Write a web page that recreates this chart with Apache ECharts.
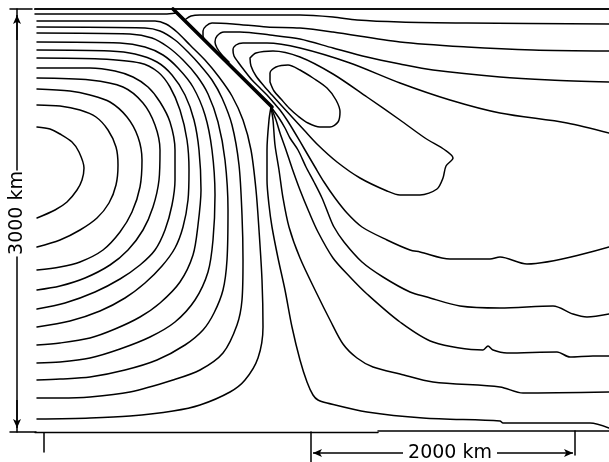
<!DOCTYPE html>
<html>
<head>
<meta charset="utf-8">
<script src="https://cdn.jsdelivr.net/npm/echarts@6/dist/echarts.min.js"></script>
<style>
html,body{margin:0;padding:0;background:#fff;}
#chart{width:609px;height:462px;}
</style>
</head>
<body>
<div id="chart"></div>
<script>
// Digitized streamline coordinates: [horizontal position, depth] in figure units
// (frame spans x 35..609, depth 9..432)

// left gyre (contours returning to the western boundary)
const gyre1 = [[37,127],[50,129],[60,134],[72,142],[79,152],[84,168],[82,180],[77,190],[67,202],[55,210],[37,218]];
const gyre2 = [[37,105],[60,106],[80,110],[96,117],[108,130],[116,147],[118,165],[116,185],[109,203],[97,218],[80,230],[60,240],[37,247]];
const gyre3 = [[37,89],[70,91],[90,95],[110,102],[127,117],[138,137],[142,160],[140,187],[132,212],[120,232],[103,250],[80,262],[60,267],[37,270]];
const gyre4 = [[37,78],[90,80],[123,87],[143,103],[155,125],[160,150],[159,180],[153,207],[143,230],[128,250],[110,265],[85,278],[60,286],[37,290]];
const gyre5 = [[37,68],[90,68],[115,71],[133,77],[148,87],[160,102],[170,122],[175,150],[175,180],[172,205],[165,230],[155,250],[140,265],[120,279],[95,292],[65,303],[37,309]];
const gyre6 = [[37,58],[100,59],[140,63],[158,72],[170,87],[180,110],[187,140],[189,170],[188,200],[183,227],[175,248],[162,266],[145,283],[125,298],[100,311],[70,321],[37,327]];
const gyre7 = [[37,50],[110,51],[135,54],[157,62],[172,75],[185,95],[194,120],[199,150],[201,190],[198,225],[193,255],[180,282],[160,303],[140,317],[115,329],[90,338],[60,343],[37,345]];
const gyre8 = [[37,42],[120,43],[145,47],[163,55],[178,68],[193,87],[205,115],[212,150],[215,195],[213,240],[208,272],[195,300],[175,322],[150,337],[120,349],[90,358],[60,362],[37,363]];
const gyre9 = [[37,33],[130,34],[152,38],[168,47],[183,60],[197,76],[208,94],[218,122],[225,160],[228,210],[227,260],[223,290],[214,313],[203,330],[185,345],[157,360],[125,370],[90,377],[60,379],[37,380]];
const gyre10 = [[37,27],[145,28],[160,31],[175,40],[188,52],[200,65],[212,80],[222,98],[232,125],[239,165],[242,215],[243,260],[242,300],[237,325],[223,353],[200,370],[173,380],[130,392],[90,397],[60,398],[37,398]];
const gyre11 = [[37,21],[155,21],[166,24],[177,32],[190,45],[205,60],[219,77],[232,96],[243,120],[251,150],[256,190],[259,230],[262,280],[263,327],[258,358],[245,380],[230,392],[200,405],[173,411],[130,416],[90,418],[37,419]];

// upper boundary streamline and the front (thick diagonal)
const line14 = [[35,14],[120,14],[165,14],[176,13]];
const front = [[173,9],[272,107]];

// eastern streamlines: come in from the right, turn along the front
const east1 = [[186,19],[191,16],[200,15],[300,15],[333,17],[357,20],[400,22],[467,23],[609,24]];
const east2 = [[205,40],[203,36],[203,31],[206,26],[212,23],[233,24],[267,27],[300,28],[333,32],[400,42],[467,47],[533,50],[609,51]];
const east3 = [[229,62],[222,55],[217,48],[215,42],[217,36],[224,32],[240,32],[270,35],[300,39],[333,48],[367,57],[400,64],[433,70],[500,77],[550,80],[609,82]];
const east4 = [[609,133],[567,123],[500,113],[450,100],[400,83],[350,63],[300,48],[267,43],[243,43],[236,45],[233,50],[234,56],[238,62],[244,70],[252,80],[260,88],[267,95],[274,103],[280,110],[287,120],[295,133],[305,150],[315,167],[324,182],[335,198],[347,213],[362,227],[387,240],[410,250],[420,252],[450,259],[490,259],[500,257],[527,264],[609,247]];

// eddy
const eddyLoop = [[250,58],[256,53],[273,51],[300,57],[333,74],[367,97],[400,120],[425,138],[445,150],[453,158],[446,166],[443,178],[437,189],[420,195],[400,195],[387,191],[360,178],[337,162],[318,145],[304,130],[292,117],[281,105],[272,95],[264,86],[256,76],[251,66],[250,58]];
const eddyCore = [[270,82],[270,73],[276,67],[288,65],[300,70],[313,78],[327,88],[336,100],[340,112],[338,122],[330,127],[320,127],[308,123],[298,116],[289,108],[281,99],[274,91],[270,82]];

// streamlines fanning out from the end of the front
const fanE = [[271,107],[269,120],[267,150],[267,180],[269,205],[272,227],[278,258],[285,290],[292,327],[300,360],[307,382],[313,395],[318,400],[327,403],[367,412],[423,418],[500,421],[503,423],[590,423],[609,428]];
const fanF = [[271,107],[273,120],[275,145],[279,170],[283,198],[289,227],[300,258],[317,294],[330,320],[343,344],[357,358],[373,367],[400,374],[433,382],[500,387],[523,393],[609,392]];
const fanG = [[271,107],[276,120],[280,133],[286,150],[292,168],[300,190],[309,212],[318,232],[333,258],[350,277],[367,294],[400,322],[433,342],[483,350],[488,346],[493,350],[507,353],[557,352],[570,357],[593,356],[609,356]];
const fanH = [[271,107],[279,118],[285,128],[290,138],[298,150],[306,167],[314,182],[322,198],[328,213],[334,227],[344,242],[362,262],[383,277],[410,292],[427,297],[460,306],[500,308],[553,306],[573,314],[587,317],[609,314]];

// frame and scale annotations
const frameTop = [[35,9],[609,9]];
const frameBottomA = [[35,432.5],[378,432.5]];
const frameBottomB = [[378,431],[609,431]];
const originTick = [[44,433],[44,452]];
const vScaleTop = [[17,9],[17,170]];
const vScaleBottom = [[17,257],[17,432]];
const vCapTop = [[10,9],[32,9]];
const vCapBottom = [[10,432],[36,432]];
const hTickLeft = [[311,432],[311,462]];
const hTickRight = [[575,431],[575,455]];
const hArrowLeft = [[403,453],[313,453]];
const hArrowRight = [[497,453],[573,453]];
const vArrowUp = [[17,40],[17,15]];
const vArrowDown = [[17,400],[17,428]];
const vScaleLabel = '3000 km';
const hScaleLabel = '2000 km';

const chart = echarts.init(document.getElementById('chart'), null, {renderer:'canvas'});

function lineSeries(data, width, smooth) {
  return {
    type:'line', data:data, symbol:'none', smooth:smooth, silent:true,
    lineStyle:{color:'#000', width:width, cap:'round', join:'round'},
    animation:false, z:2
  };
}
function arrowMark(seg) {
  return [{coord:seg[0]},{coord:seg[1]}];
}

const contours = [gyre1,gyre2,gyre3,gyre4,gyre5,gyre6,gyre7,gyre8,gyre9,gyre10,gyre11,
  line14,east1,east2,east3,east4,eddyLoop,eddyCore,fanE,fanF,fanG,fanH];

const series = contours.map(d => lineSeries(d, 1.5, 0.3));
series.push(lineSeries(front, 3.6, false));
series.push(lineSeries(frameTop, 1.7, false));
[frameBottomA, frameBottomB, originTick, vScaleTop, vScaleBottom, vCapTop, vCapBottom, hTickLeft, hTickRight]
  .forEach(d => series.push(lineSeries(d, 1.5, false)));

const arrowSeries = lineSeries(frameTop, 1.7, false);
arrowSeries.markLine = {
  silent:true, animation:false,
  symbol:['none','arrow'], symbolSize:[6,9],
  label:{show:false},
  lineStyle:{color:'#000', width:1.5, type:'solid'},
  data:[arrowMark(hArrowLeft), arrowMark(hArrowRight), arrowMark(vArrowUp), arrowMark(vArrowDown)]
};
series.push(arrowSeries);

chart.setOption({
  animation:false,
  backgroundColor:'#fff',
  grid:{left:0, right:0, top:0, bottom:0},
  xAxis:{type:'value', min:0, max:609, show:false},
  yAxis:{type:'value', min:0, max:462, inverse:true, show:false},
  series:series,
  graphic:[
    {type:'text', x:450, y:453, silent:true,
     style:{text:hScaleLabel, font:'19px "DejaVu Sans"', fill:'#000', align:'center', verticalAlign:'middle'}},
    {type:'text', x:17, y:213, rotation:Math.PI/2, silent:true,
     style:{text:vScaleLabel, font:'19px "DejaVu Sans"', fill:'#000', align:'center', verticalAlign:'middle'}}
  ]
});
</script>
</body>
</html>
